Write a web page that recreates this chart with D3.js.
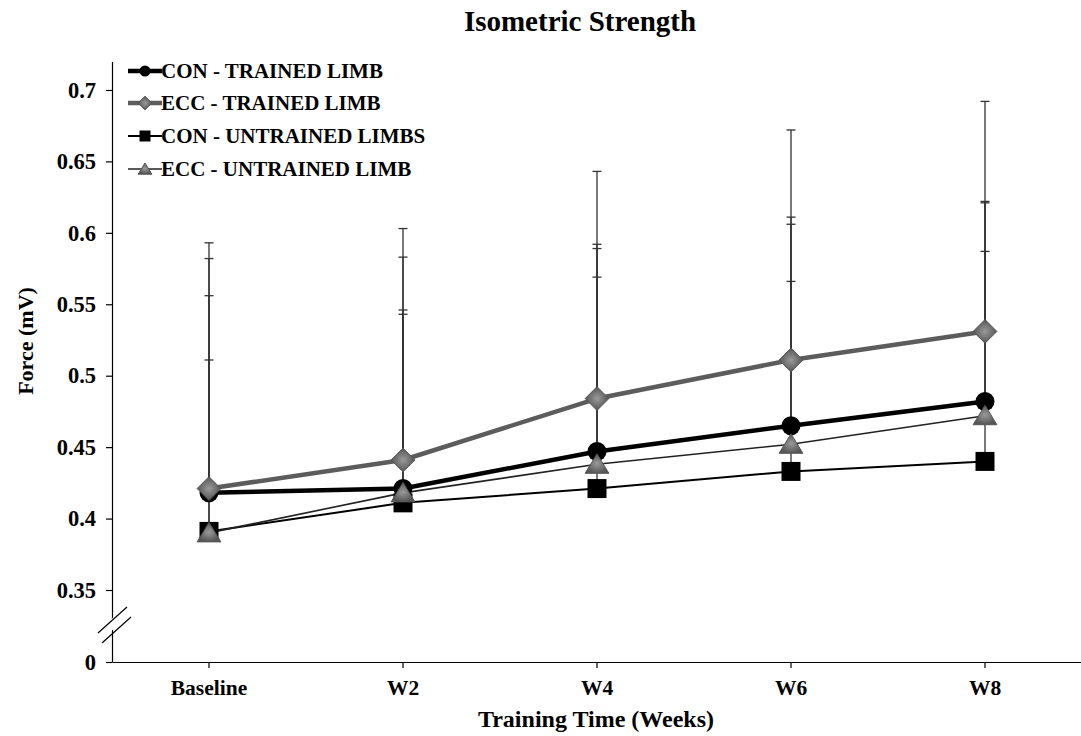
<!DOCTYPE html>
<html>
<head>
<meta charset="utf-8">
<script src="https://cdn.jsdelivr.net/npm/d3@7"></script>
<style>
  html, body { margin: 0; padding: 0; background: #fff; }
  svg { display: block; font-family: "Liberation Serif", "Times New Roman", serif; }
</style>
</head>
<body>
<svg id="chart" width="1081" height="736"></svg>
<script>
// Isometric strength over eight weeks of training (mean force, upper SD bars)
const categories = ["Baseline", "W2", "W4", "W6", "W8"];

const conTrained   = [0.418, 0.421, 0.447, 0.465, 0.482];
const eccTrained   = [0.421, 0.441, 0.484, 0.511, 0.531];
const conUntrained = [0.391, 0.411, 0.421, 0.433, 0.440];
const eccUntrained = [0.390, 0.418, 0.438, 0.452, 0.472];

const conTrainedSD   = [0.164, 0.162, 0.145, 0.146, 0.140];
const eccTrainedSD   = [0.172, 0.162, 0.159, 0.161, 0.161];
const conUntrainedSD = [0.120, 0.132, 0.148, 0.133, 0.147];
const eccUntrainedSD = [0.166, 0.128, 0.151, 0.154, 0.149];

const yTicks = [0, 0.35, 0.4, 0.45, 0.5, 0.55, 0.6, 0.65, 0.7];

const seriesNames = ["CON - TRAINED LIMB", "ECC - TRAINED LIMB", "CON - UNTRAINED LIMBS", "ECC - UNTRAINED LIMB"];

const series = [
  { name: seriesNames[0], values: conTrained,   sd: conTrainedSD,   symbol: "circle",   stroke: "#000",    width: 4.5, fill: "#000" },
  { name: seriesNames[1], values: eccTrained,   sd: eccTrainedSD,   symbol: "diamond",  stroke: "#5c5c5c", width: 4.5, fill: "url(#greyGrad)" },
  { name: seriesNames[2], values: conUntrained, sd: conUntrainedSD, symbol: "square",   stroke: "#000",    width: 2,   fill: "#000" },
  { name: seriesNames[3], values: eccUntrained, sd: eccUntrainedSD, symbol: "triangle", stroke: "#222",    width: 1.6, fill: "url(#greyGrad)" }
];

const svg = d3.select("#chart");

const defs = svg.append("defs");
const grad = defs.append("radialGradient").attr("id", "greyGrad");
grad.append("stop").attr("offset", "0%").attr("stop-color", "#9a9a9a");
grad.append("stop").attr("offset", "100%").attr("stop-color", "#555");

const axisLeftX = 112, axisBottomY = 662;

const x = d3.scaleBand().domain(categories).range([axisLeftX, 1082]);
const cx = c => x(c) + x.bandwidth() / 2;

// Broken value axis: 0 sits just below the 0.35 gridline
const y = d3.scaleLinear().domain([0, 0.35, 0.72]).range([axisBottomY, 590, 61.4]);

// Title
svg.append("text")
  .attr("x", 580).attr("y", 31)
  .attr("text-anchor", "middle")
  .attr("font-weight", "bold").attr("font-size", 29)
  .text("Isometric Strength");

// Axes
const yAxis = d3.axisLeft(y).tickValues(yTicks).tickSize(6).tickSizeOuter(0).tickPadding(10)
  .tickFormat(d => d === 0 ? "0" : String(+d.toFixed(2)));
const gy = svg.append("g").attr("transform", `translate(${axisLeftX},0)`).call(yAxis);
gy.selectAll("text").attr("font-size", 22.5).attr("font-weight", "bold").attr("font-family", "Liberation Serif, serif").attr("fill", "#000");
gy.selectAll("line, path").attr("stroke", "#000").attr("stroke-width", 1.2);

const xAxis = d3.axisBottom(x).tickSize(6).tickSizeOuter(0).tickPadding(12);
const gx = svg.append("g").attr("transform", `translate(0,${axisBottomY})`).call(xAxis);
gx.selectAll("text").attr("font-size", 21.5).attr("font-weight", "bold").attr("font-family", "Liberation Serif, serif").attr("fill", "#000");
gx.selectAll("line, path").attr("stroke", "#000").attr("stroke-width", 1.2);

// Axis break marks
const brk = svg.append("g");
brk.append("polygon")
  .attr("points", `${axisLeftX - 4},${622} ${axisLeftX + 4},${615} ${axisLeftX + 4},${627} ${axisLeftX - 4},${634}`)
  .attr("fill", "#fff");
brk.append("line").attr("x1", 98).attr("y1", 633).attr("x2", 127).attr("y2", 607).attr("stroke", "#000").attr("stroke-width", 1.2);
brk.append("line").attr("x1", 102).attr("y1", 643).attr("x2", 131).attr("y2", 617).attr("stroke", "#000").attr("stroke-width", 1.2);

// Axis titles
svg.append("text")
  .attr("x", 596).attr("y", 727)
  .attr("text-anchor", "middle")
  .attr("font-weight", "bold").attr("font-size", 24)
  .text("Training Time (Weeks)");

svg.append("text")
  .attr("transform", `translate(33,341) rotate(-90)`)
  .attr("text-anchor", "middle")
  .attr("font-weight", "bold").attr("font-size", 22)
  .text("Force (mV)");

// Error bars (upper SD only)
const capHalf = 4.5;
const eb = svg.append("g").attr("stroke", "#333").attr("stroke-width", 1.3);
series.forEach(s => {
  categories.forEach((c, i) => {
    const xv = cx(c), y0 = y(s.values[i]), y1 = y(s.values[i] + s.sd[i]);
    eb.append("line").attr("x1", xv).attr("x2", xv).attr("y1", y0).attr("y2", y1);
    eb.append("line").attr("x1", xv - capHalf).attr("x2", xv + capHalf).attr("y1", y1).attr("y2", y1);
  });
});

// Series lines
const line = d3.line().x((d, i) => cx(categories[i])).y(d => y(d));
const drawOrder = [0, 2, 3, 1];
drawOrder.forEach(k => {
  const s = series[k];
  svg.append("path").datum(s.values)
    .attr("d", line)
    .attr("fill", "none")
    .attr("stroke", s.stroke)
    .attr("stroke-width", s.width)
    .attr("stroke-linejoin", "round");
});

function symbolPath(kind, size) {
  const h = size / 2;
  switch (kind) {
    case "circle":
      return `M${-h},0A${h},${h} 0 1,0 ${h},0A${h},${h} 0 1,0 ${-h},0Z`;
    case "diamond":
      return `M0,${-h * 1.25}L${h * 1.25},0L0,${h * 1.25}L${-h * 1.25},0Z`;
    case "square":
      return `M${-h},${-h}H${h}V${h}H${-h}Z`;
    case "triangle":
      return `M0,${-h * 1.1}L${h * 1.25},${h * 0.95}L${-h * 1.25},${h * 0.95}Z`;
  }
}

// Markers
const markerOrder = [2, 0, 3, 1];
markerOrder.forEach(k => {
  const s = series[k];
  const g = svg.append("g");
  s.values.forEach((v, i) => {
    g.append("path")
      .attr("d", symbolPath(s.symbol, 19))
      .attr("transform", `translate(${cx(categories[i])},${y(v)})`)
      .attr("fill", s.fill)
      .attr("stroke", s.symbol === "diamond" || s.symbol === "triangle" ? "#555" : "none")
      .attr("stroke-width", 1);
  });
});

// Legend
const legend = svg.append("g");
const rowY = [71, 103, 136, 169];
series.forEach((s, i) => {
  const row = legend.append("g").attr("transform", `translate(0,${rowY[i]})`);
  row.append("line").attr("x1", 128).attr("x2", 162).attr("y1", 0).attr("y2", 0)
    .attr("stroke", s.stroke).attr("stroke-width", s.width);
  row.append("path")
    .attr("d", symbolPath(s.symbol, 11))
    .attr("transform", "translate(145,0)")
    .attr("fill", s.fill)
    .attr("stroke", s.symbol === "diamond" || s.symbol === "triangle" ? "#555" : "none");
  row.append("text")
    .attr("x", 161).attr("y", 7)
    .attr("font-weight", "bold").attr("font-size", 21)
    .text(s.name);
});
</script>
</body>
</html>
